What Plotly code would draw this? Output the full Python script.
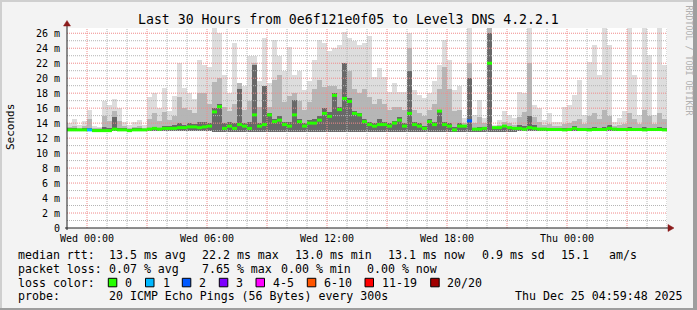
import plotly.graph_objects as go
import pandas as pd

# ---------------- data (15-minute bins, Tue 23:00 -> Thu 05:00) ----------------
# top of lightest smoke (max rtt, ms)
mx = [14.0, 14.5, 13.8, 14.3, 15.8, 13.6, 13.5, 17.0, 16.4, 17.2,
      16.0, 14.2, 13.7, 14.2, 14.4, 13.8, 17.5, 18.0, 16.0, 18.7,
      15.6, 17.6, 22.0, 18.7, 18.0, 17.2, 22.4, 21.8, 21.5, 26.7,
      26.0, 20.4, 18.0, 24.7, 19.3, 18.9, 22.9, 23.0, 19.6, 25.3,
      19.3, 25.1, 22.9, 20.9, 24.2, 20.4, 20.9, 18.4, 19.6, 22.4,
      25.1, 24.7, 23.6, 24.0, 24.4, 26.2, 25.3, 24.9, 24.4, 24.7,
      25.6, 20.2, 21.3, 20.2, 18.2, 19.3, 18.2, 18.2, 26.0, 18.4,
      17.8, 17.3, 18.0, 19.6, 21.8, 25.1, 22.4, 18.4, 18.9, 14.7,
      26.7, 15.1, 17.1, 14.7, 26.7, 13.8, 14.4, 15.6, 15.1, 14.7,
      18.2, 18.0, 26.7, 16.4, 16.0, 14.4, 15.3, 14.2, 14.2, 16.2,
      16.4, 17.8, 19.8, 15.1, 22.2, 24.4, 20.4, 26.7, 24.4, 14.2,
      14.7, 15.6, 26.7, 20.4, 15.1, 26.7, 23.1, 15.1, 26.7, 21.8]
# top of medium smoke
md = [13.5, 13.6, 13.4, 13.6, 14.6, 13.3, 13.3, 15.0, 14.3, 15.6,
      14.3, 13.6, 13.4, 13.5, 13.6, 13.4, 14.6, 15.3, 14.3, 15.5,
      14.4, 15.0, 17.5, 16.0, 15.8, 15.4, 18.0, 18.0, 16.6, 19.5,
      20.0, 16.2, 15.6, 16.6, 19.3, 15.8, 17.0, 22.0, 16.2, 19.0,
      16.2, 19.8, 20.4, 16.8, 17.6, 18.0, 17.0, 15.8, 16.8, 18.6,
      19.8, 18.8, 19.0, 19.0, 18.6, 22.0, 21.0, 18.5, 18.0, 18.6,
      17.5, 16.6, 17.2, 16.6, 15.8, 16.2, 16.2, 15.8, 24.0, 15.8,
      15.3, 15.0, 15.8, 16.6, 18.5, 21.5, 18.5, 15.6, 15.8, 14.0,
      22.0, 14.0, 14.8, 14.0, 26.7, 13.5, 13.8, 14.2, 14.0, 13.8,
      14.8, 15.5, 22.0, 14.8, 14.2, 13.7, 13.9, 13.6, 13.6, 13.9,
      14.0, 14.3, 14.6, 13.9, 15.0, 15.4, 14.6, 15.8, 15.0, 13.6,
      13.7, 13.9, 15.4, 14.6, 13.9, 15.8, 15.0, 13.9, 15.4, 14.6]
# top of dark smoke
dk = [13.3, 13.3, 13.2, 13.3, 13.4, 13.2, 13.2, 13.5, 13.4, 14.8,
      13.4, 13.3, 13.2, 13.3, 13.3, 13.2, 13.4, 13.5, 13.4, 13.6,
      13.6, 13.8, 14.0, 13.8, 14.0, 13.9, 14.2, 14.2, 14.0, 16.0,
      16.6, 14.0, 14.2, 14.0, 18.5, 14.0, 14.2, 21.8, 14.0, 18.9,
      15.3, 14.5, 15.0, 14.2, 14.2, 17.1, 14.6, 14.0, 14.4, 14.6,
      15.0, 16.0, 15.5, 18.0, 16.2, 22.0, 17.3, 15.6, 15.3, 14.6,
      14.2, 14.0, 14.5, 14.2, 14.0, 14.3, 14.8, 14.0, 21.0, 14.2,
      14.0, 13.6, 14.5, 14.2, 15.8, 14.2, 14.0, 13.5, 14.0, 13.6,
      20.0, 13.4, 13.5, 13.4, 26.0, 13.3, 13.4, 13.5, 13.5, 13.4,
      13.8, 13.6, 15.0, 13.8, 13.4, 13.3, 13.4, 13.3, 13.3, 13.4,
      13.4, 13.6, 13.4, 13.4, 13.4, 13.5, 13.4, 13.5, 13.8, 13.3,
      13.3, 13.4, 13.5, 13.4, 13.4, 13.5, 13.4, 13.4, 13.5, 13.4]
# median rtt
med = [13.1, 13.1, 13.1, 13.1, 13.1, 13.0, 13.0, 13.0, 13.0, 13.2,
       13.1, 13.1, 13.0, 13.1, 13.1, 13.1, 13.2, 13.3, 13.2, 13.3,
       13.3, 13.3, 13.4, 13.4, 13.5, 13.5, 13.4, 13.5, 13.6, 15.5,
       16.2, 13.3, 13.6, 13.3, 13.8, 13.6, 13.3, 15.1, 13.6, 13.8,
       15.1, 14.2, 14.4, 13.8, 13.6, 15.1, 14.2, 13.6, 14.0, 14.0,
       14.4, 15.3, 14.9, 17.7, 15.8, 17.3, 16.9, 15.3, 15.1, 14.2,
       13.8, 13.6, 13.8, 13.8, 13.6, 14.0, 14.4, 13.6, 15.3, 13.8,
       13.6, 13.3, 14.2, 13.8, 15.6, 13.8, 13.6, 13.1, 13.6, 13.6,
       14.3, 13.2, 13.2, 13.3, 22.0, 13.4, 13.4, 13.6, 13.4, 13.3,
       13.3, 13.2, 13.4, 13.3, 13.2, 13.2, 13.15, 13.15, 13.15, 13.1,
       13.15, 13.3, 13.15, 13.15, 13.1, 13.15, 13.15, 13.15, 13.3, 13.2,
       13.15, 13.15, 13.15, 13.15, 13.15, 13.1, 13.15, 13.15, 13.15, 13.1]
# bottom of smoke (min rtt)
lo = [12.95, 12.95, 12.95, 12.95, 12.95, 12.95, 12.95, 12.95, 12.95, 12.95,
      12.95, 12.95, 12.95, 12.95, 12.95, 12.95, 12.95, 12.95, 12.95, 12.95,
      12.95, 12.95, 12.95, 12.95, 12.95, 12.95, 12.95, 12.95, 12.95, 12.85,
      12.85, 12.85, 12.85, 12.85, 12.85, 12.85, 12.85, 12.85, 12.85, 12.85,
      12.85, 12.85, 12.85, 12.85, 12.85, 12.85, 12.85, 12.85, 12.85, 12.85,
      12.85, 12.85, 12.85, 12.85, 12.85, 12.85, 12.85, 12.85, 12.85, 12.85,
      12.85, 12.85, 12.85, 12.85, 12.85, 12.85, 12.85, 12.85, 12.85, 12.85,
      12.85, 12.85, 12.85, 12.85, 12.85, 12.85, 12.85, 12.85, 12.85, 12.85,
      12.85, 12.85, 12.85, 12.85, 12.85, 12.85, 12.85, 12.85, 12.85, 12.85,
      12.95, 12.95, 12.95, 12.95, 12.95, 12.95, 12.95, 12.95, 12.95, 12.95,
      12.95, 12.95, 12.95, 12.95, 12.95, 12.95, 12.95, 12.95, 12.95, 12.95,
      12.95, 12.95, 12.95, 12.95, 12.95, 12.95, 12.95, 12.95, 12.95, 12.95]
# lost pings (of 20) per bin
loss = [0, 0, 0, 0, 1, 0, 0, 0, 0, 0,
        0, 0, 0, 0, 0, 0, 0, 0, 0, 0,
        0, 0, 0, 0, 0, 0, 0, 0, 0, 0,
        0, 0, 0, 0, 0, 0, 0, 0, 0, 0,
        0, 0, 0, 0, 0, 0, 0, 0, 0, 0,
        0, 0, 0, 0, 0, 0, 0, 0, 0, 0,
        0, 0, 0, 0, 0, 0, 0, 0, 0, 0,
        0, 0, 0, 0, 0, 0, 0, 0, 0, 0,
        2, 0, 0, 0, 0, 0, 0, 0, 0, 0,
        0, 0, 0, 0, 0, 0, 0, 0, 0, 0,
        0, 0, 0, 0, 0, 0, 0, 0, 0, 0,
        0, 0, 0, 0, 0, 0, 0, 0, 0, 0]

x_tick_labels = ["Wed 00:00", "Wed 06:00", "Wed 12:00", "Wed 18:00", "Thu 00:00"]
x_tick_times = ["2025-12-24 00:00", "2025-12-24 06:00", "2025-12-24 12:00",
                "2025-12-24 18:00", "2025-12-25 00:00"]
y_tick_vals = [0, 2, 4, 6, 8, 10, 12, 14, 16, 18, 20, 22, 24, 26]
y_tick_text = ["0", "2 m", "4 m", "6 m", "8 m", "10 m", "12 m", "14 m", "16 m",
               "18 m", "20 m", "22 m", "24 m", "26 m"]

loss_levels = [0, 1, 2, 3, 5, 10, 19, 20]
loss_cols = ["#26ff00", "#00b8ff", "#0059ff", "#7e00ff", "#ff00ff", "#ff5500", "#ff0000", "#a10000"]
loss_labels = ["0", "1", "2", "3", "4-5", "6-10", "11-19", "20/20"]

legend_rows = [
    [(16, "median rtt:"), (107.3, "13.5 ms avg"), (200, "22.2 ms max"), (292.7, "13.0 ms min"),
     (386, "13.1 ms now"), (480, "0.9 ms sd"), (559, "15.1"), (607.3, "am/s")],
    [(16, "packet loss:"), (107.3, "0.07 % avg"), (200, "7.65 % max"), (279.3, "0.00 % min"),
     (365, "0.00 % now")],
    [(16, "loss color:")],
    [(16, "probe:"), (107.3, "20 ICMP Echo Pings (56 Bytes) every 300s"),
     (513.3, "Thu Dec 25 04:59:48 2025")],
]

# ---------------- layout geometry ----------------
W, H = 697, 310
PL, PR, PT, PB = 67, 667, 28, 228
YMAX = 26.7
FONT = "DejaVu Sans Mono"


def px(x):
    return (x - PL) / (PR - PL)


def py(y):
    return (PB - y) / (PB - PT)


start = pd.Timestamp("2025-12-23 23:00")
end = pd.Timestamp("2025-12-25 05:00")
step = pd.Timedelta(minutes=15)
n = len(med)
edges = [start + i * step for i in range(n + 1)]
centers = [e + step / 2 for e in edges[:-1]]


def fmt(t):
    return t.strftime("%Y-%m-%d %H:%M:%S")


fig = go.Figure()

# smoke layers
for top, col in [(mx, "#dddddd"), (md, "#b6b6b6"), (dk, "#686868")]:
    fig.add_trace(go.Bar(
        x=[fmt(c) for c in centers], y=[a - b for a, b in zip(top, lo)], base=lo,
        width=step.total_seconds() * 1000,
        marker=dict(color=col, line=dict(width=0)),
        hoverinfo="skip", showlegend=False))

# grid (drawn above smoke, below median like rrdtool)
hours = pd.date_range("2025-12-24 00:00", end, freq="h")


def vlines(ts):
    xs, ys = [], []
    for t in ts:
        xs += [fmt(t), fmt(t), None]
        ys += [0, YMAX, None]
    return xs, ys


def hlines(vals):
    xs, ys = [], []
    for v in vals:
        xs += [fmt(start), fmt(end), None]
        ys += [v, v, None]
    return xs, ys


minor_col = "#b4b4b4"
major_col = "#f08a8a"
for xs, ys, col in [
    (*vlines([t for t in hours if t.hour % 3]), minor_col),
    (*hlines(range(1, 27, 2)), minor_col),
    (*vlines([t for t in hours if t.hour % 3 == 0]), major_col),
    (*hlines(range(2, 27, 2)), major_col),
]:
    fig.add_trace(go.Scatter(x=xs, y=ys, mode="lines",
                             line=dict(color=col, width=1, dash="1px,1px"),
                             hoverinfo="skip", showlegend=False))


# median line coloured by loss
def loss_color(l):
    for lev, c in zip(loss_levels, loss_cols):
        if l <= lev:
            return c
    return loss_cols[-1]


groups = {}
for i in range(n):
    c = loss_color(loss[i])
    xs, ys = groups.setdefault(c, ([], []))
    xs += [fmt(edges[i]), fmt(edges[i + 1]), None]
    ys += [med[i], med[i], None]
for c, (xs, ys) in groups.items():
    fig.add_trace(go.Scatter(x=xs, y=ys, mode="lines", line=dict(color=c, width=3),
                             hoverinfo="skip", showlegend=False))

shapes = []
# outer 3D border
shapes += [
    dict(type="rect", xref="paper", yref="paper", x0=px(0), x1=px(W), y0=py(0), y1=py(2),
         fillcolor="#cfcfcf", line=dict(width=0)),
    dict(type="rect", xref="paper", yref="paper", x0=px(0), x1=px(2), y0=py(0), y1=py(H),
         fillcolor="#cfcfcf", line=dict(width=0)),
    dict(type="rect", xref="paper", yref="paper", x0=px(693), x1=px(W), y0=py(0), y1=py(H),
         fillcolor="#9e9e9e", line=dict(width=0)),
    dict(type="rect", xref="paper", yref="paper", x0=px(0), x1=px(W), y0=py(308), y1=py(H),
         fillcolor="#9e9e9e", line=dict(width=0)),
]
# axes with arrows
axis_col = "#1f1f1f"
arrow_col = "#8b1a1a"
shapes += [
    dict(type="line", xref="paper", yref="paper", x0=px(65), x1=px(669), y0=py(228), y1=py(228),
         line=dict(color=axis_col, width=1)),
    dict(type="line", xref="paper", yref="paper", x0=px(67), x1=px(67), y0=py(230), y1=py(25),
         line=dict(color=axis_col, width=1)),
    dict(type="path", xref="paper", yref="paper",
         path=f"M {px(668)},{py(224.5)} L {px(674)},{py(228)} L {px(668)},{py(231.5)} Z",
         fillcolor=arrow_col, line=dict(color=arrow_col, width=0.5)),
    dict(type="path", xref="paper", yref="paper",
         path=f"M {px(63.5)},{py(26)} L {px(67)},{py(20.5)} L {px(70.5)},{py(26)} Z",
         fillcolor=arrow_col, line=dict(color=arrow_col, width=0.5)),
]

annotations = []
# title
annotations.append(dict(text="Last 30 Hours from 0e6f121e0f05 to Level3 DNS 4.2.2.1",
                        x=px(348.5), y=py(19), xref="paper", yref="paper", showarrow=False,
                        xanchor="center", yanchor="middle",
                        font=dict(family=FONT, size=13.2, color="#000")))
# y axis title
annotations.append(dict(text="Seconds", x=px(10), y=py(127), xref="paper", yref="paper",
                        showarrow=False, textangle=-90, xanchor="center", yanchor="middle",
                        font=dict(family=FONT, size=11, color="#000")))
# watermark
annotations.append(dict(text="RRDTOOL / TOBI OETIKER", x=px(688.5), y=py(60), xref="paper",
                        yref="paper", showarrow=False, textangle=90, xanchor="center",
                        yanchor="middle", font=dict(family=FONT, size=8.3, color="#b0b0b0")))
# legend text
row_y = [254.7, 268.7, 282.7, 296.3]
for ry, row in zip(row_y, legend_rows):
    for lx, txt in row:
        annotations.append(dict(text=txt, x=px(lx), y=py(ry), xref="paper", yref="paper",
                                showarrow=False, xanchor="left", yanchor="middle",
                                font=dict(family=FONT, size=11.6, color="#000")))
# loss colour boxes
box_x = [108.3, 145.5, 182.3, 219.3, 256.0, 307.3, 365.0, 430.7]
label_x = [123.3, 160.7, 197.3, 234.3, 271.0, 322.3, 380.0, 445.0]
for bx, lx, c, lab in zip(box_x, label_x, loss_cols, loss_labels):
    shapes.append(dict(type="rect", xref="paper", yref="paper", x0=px(bx), x1=px(bx + 8.5),
                       y0=py(278.3), y1=py(286.8), fillcolor=c,
                       line=dict(color="#000", width=1)))
    annotations.append(dict(text=lab, x=px(lx), y=py(row_y[2]), xref="paper", yref="paper",
                            showarrow=False, xanchor="left", yanchor="middle",
                            font=dict(family=FONT, size=11.6, color="#000")))

fig.update_layout(
    width=W, height=H,
    margin=dict(l=PL, r=W - PR, t=PT, b=H - PB, pad=0),
    paper_bgcolor="#f3f3f3", plot_bgcolor="#ffffff",
    barmode="overlay", bargap=0, showlegend=False,
    shapes=shapes, annotations=annotations,
    xaxis=dict(type="date", range=[fmt(start), fmt(end)], showgrid=False, zeroline=False,
               showline=False, ticks="", tickvals=x_tick_times, ticktext=x_tick_labels,
               tickfont=dict(family=FONT, size=10, color="#000"), ticklabelstandoff=3),
    yaxis=dict(range=[0, YMAX], showgrid=False, zeroline=False, showline=False, ticks="",
               tickvals=y_tick_vals, ticktext=y_tick_text,
               tickfont=dict(family=FONT, size=10, color="#000"), ticklabelstandoff=6),
)

fig.write_html("out.html")
